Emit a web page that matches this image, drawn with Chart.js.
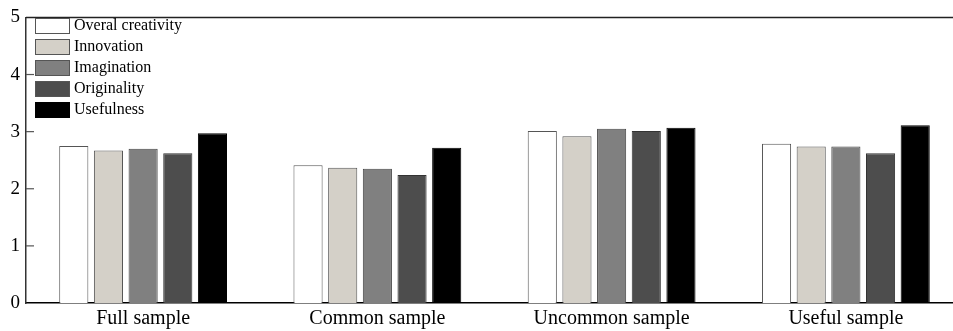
<!DOCTYPE html>
<html>
<head>
<meta charset="utf-8">
<script src="https://cdn.jsdelivr.net/npm/chart.js@4/dist/chart.umd.min.js"></script>
<style>
  html, body { margin: 0; padding: 0; background: #fff; overflow: hidden; }
  #wrap { width: 953px; height: 331px; overflow: hidden; position: relative; }
  #wrap canvas { position: absolute; left: 0; top: 0; }
</style>
</head>
<body>
<div id="wrap"><canvas id="creativityChart" width="980" height="331"></canvas></div>
<script>
const categories = ['Full sample', 'Common sample', 'Uncommon sample', 'Useful sample'];
const seriesNames = ['Overal creativity', 'Innovation', 'Imagination', 'Originality', 'Usefulness'];
const overall = [2.75, 2.41, 3.01, 2.79];
const innovation = [2.67, 2.37, 2.92, 2.74];
const imagination = [2.70, 2.35, 3.05, 2.74];
const originality = [2.62, 2.24, 3.01, 2.62];
const usefulness = [2.97, 2.72, 3.07, 3.11];
const yTicks = [0, 1, 2, 3, 4, 5];

const fills = ['#ffffff', '#d4d0c8', '#808080', '#4d4d4d', '#000000'];
const edges = ['#555555', '#555555', '#444444', '#333333', '#000000'];
const serif = '"Liberation Serif", "DejaVu Serif", serif';

const allSeries = [overall, innovation, imagination, originality, usefulness];
let datasets = [];
for (let i = 0; i < allSeries.length; i += 1) {
    datasets.push({
        label: seriesNames[i],
        data: allSeries[i],
        backgroundColor: fills[i],
        borderColor: edges[i],
        borderWidth: 1,
        categoryPercentage: 0.74,
        barPercentage: 0.84
    });
}

// frame top line, inward ticks and the legend inside the plot
const framePlugin = {
    id: 'frame',
    afterDraw(chart) {
        const ctx = chart.ctx;
        const area = chart.chartArea;
        const y = chart.scales.y;
        ctx.save();
        ctx.strokeStyle = '#222';
        ctx.lineWidth = 1.5;
        ctx.beginPath();
        ctx.moveTo(area.left, area.top);
        ctx.lineTo(area.right, area.top);
        ctx.stroke();

        ctx.strokeStyle = '#555';
        ctx.lineWidth = 1.2;
        yTicks.forEach(v => {
            const py = y.getPixelForValue(v);
            if (v === 0 || v === 5) return;
            ctx.beginPath();
            ctx.moveTo(area.left, py);
            ctx.lineTo(area.left + 8, py);
            ctx.stroke();
        });

        // legend
        ctx.font = '16px ' + serif;
        ctx.textBaseline = 'middle';
        for (let i = 0; i < seriesNames.length; i += 1) {
            const top = 18 + i * 21;
            ctx.fillStyle = fills[i];
            ctx.fillRect(35, top, 35, 16);
            ctx.strokeStyle = i === 4 ? '#000' : '#555';
            ctx.lineWidth = 1;
            ctx.strokeRect(35.5, top + 0.5, 34, 15);
            ctx.fillStyle = '#000';
            ctx.fillText(seriesNames[i], 74, top + 8);
        }
        ctx.restore();
    }
};

const ctx = document.getElementById('creativityChart').getContext('2d');
window.creativityChart = new Chart(ctx, {
    type: 'bar',
    data: {
        labels: categories,
        datasets: datasets
    },
    options: {
        responsive: false,
        animation: false,
        layout: { padding: { top: 13, right: 17, left: 0, bottom: 0 } },
        plugins: {
            legend: { display: false },
            tooltip: { enabled: false },
            title: { display: false }
        },
        scales: {
            x: {
                grid: { display: false, drawTicks: false },
                border: { display: true, color: '#000', width: 1.5 },
                ticks: {
                    color: '#000',
                    padding: 4,
                    font: { family: serif, size: 20 }
                },
                afterFit(scale) { scale.height = 28; }
            },
            y: {
                min: 0,
                max: 5,
                afterBuildTicks(scale) {
                    scale.ticks = yTicks.map(v => ({ value: v }));
                },
                grid: { display: false, drawTicks: false },
                border: { display: true, color: '#333', width: 1.5 },
                ticks: {
                    color: '#000',
                    padding: 6,
                    font: { family: serif, size: 19 }
                },
                afterFit(scale) { scale.width = 26; }
            }
        }
    },
    plugins: [framePlugin]
});
</script>
</body>
</html>
